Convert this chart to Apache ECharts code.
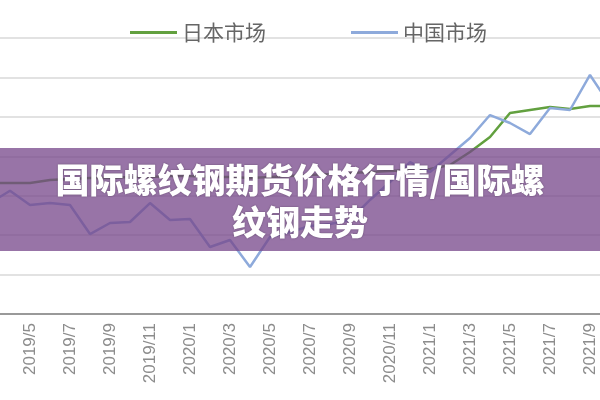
<!DOCTYPE html>
<html>
<head>
<meta charset="utf-8">
<script src="https://cdn.jsdelivr.net/npm/echarts@6/dist/echarts.min.js"></script>
<style>
html,body{margin:0;padding:0;background:#fff;}
#c{width:600px;height:400px;}
</style>
</head>
<body>
<div id="c"></div>
<script>
var categories = ['2019/3','2019/4','2019/5','2019/6','2019/7','2019/8','2019/9','2019/10','2019/11','2019/12',
  '2020/1','2020/2','2020/3','2020/4','2020/5','2020/6','2020/7','2020/8','2020/9','2020/10','2020/11','2020/12',
  '2021/1','2021/2','2021/3','2021/4','2021/5','2021/6','2021/7','2021/8','2021/9','2021/10'];
var japanValues = [3661,3661,3661,3699,3712,3724,3724,3737,3737,3750,
  3750,3737,3737,3724,3737,3750,3763,3775,3788,3800,3813,3826,
  3839,3889,4054,4244,4549,4587,4625,4600,4637,4637];
var chinaValues = [3407,3563,3382,3407,3382,3014,3154,3167,3407,3192,
  3205,2850,2938,2596,2976,3040,3116,3141,3192,3446,3674,3927,
  3800,4016,4232,4523,4422,4282,4612,4587,5031,4650];
var seriesNames = ['日本市场','中国市场'];
var titleText = '国际螺纹钢期货价格行情/国际螺\n纹钢走势';

var chart = echarts.init(document.getElementById('c'));
chart.setOption({
  animation: false,
  backgroundColor: '#ffffff',
  legend: {
    data: seriesNames,
    left: 125,
    top: 17,
    icon: 'rect',
    itemWidth: 47,
    itemHeight: 3,
    itemGap: 85,
    textStyle: {color: '#666', fontSize: 21, fontFamily: 'Noto Sans CJK SC'}
  },
  grid: {left: -10, right: -10, top: 38, bottom: 86, containLabel: false, outerBoundsMode: 'none'},
  xAxis: {
    type: 'category',
    data: categories,
    boundaryGap: false,
    axisLine: {lineStyle: {color: '#999', width: 2}},
    axisTick: {show: false},
    splitLine: {show: false},
    axisLabel: {
      rotate: 90,
      margin: 9,
      color: '#8c8c8c',
      fontSize: 17,
      fontFamily: 'Liberation Sans',
      interval: function (index) { return index % 2 === 0; }
    }
  },
  yAxis: {
    type: 'value',
    min: 2000,
    max: 5500,
    interval: 500,
    axisLabel: {show: false},
    axisLine: {show: false},
    axisTick: {show: false},
    splitLine: {lineStyle: {color: '#e2e2e2', width: 2}}
  },
  series: [
    {name: seriesNames[0], type: 'line', data: japanValues, symbol: 'none',
     lineStyle: {color: '#62a03f', width: 2.5}, itemStyle: {color: '#62a03f'}},
    {name: seriesNames[1], type: 'line', data: chinaValues, symbol: 'none',
     lineStyle: {color: '#8eaadb', width: 2.5}, itemStyle: {color: '#8eaadb'}}
  ],
  graphic: [
    {type: 'rect', z: 100, shape: {x: 0, y: 148, width: 600, height: 103},
     style: {fill: 'rgba(118,70,138,0.75)'}},
    {type: 'text', z: 101, x: 300, y: 201,
     style: {text: titleText, fill: '#fff', font: '900 34px "Noto Sans CJK SC"',
       align: 'center', verticalAlign: 'middle', lineHeight: 42,
       textShadowColor: 'rgba(0,0,0,0.35)', textShadowBlur: 2}}
  ]
});
</script>
</body>
</html>
